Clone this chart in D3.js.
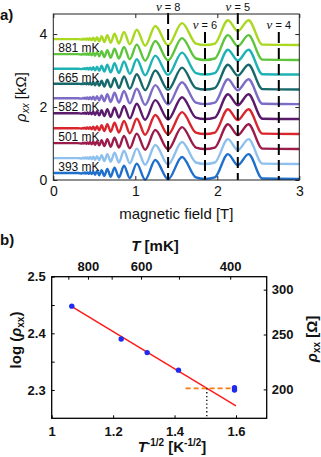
<!DOCTYPE html>
<html>
<head>
<meta charset="utf-8">
<script src="https://cdn.jsdelivr.net/npm/d3@7/dist/d3.min.js"></script>
<style>
  body { margin: 0; background: #fff; }
  svg { display: block; font-family: "Liberation Sans", Arial, sans-serif; }
</style>
</head>
<body>
<div id="chart"></div>
<script>
// ---- panel a: SdH traces (offset for clarity) ----
var fieldKnots = [0, 0.30, 0.35, 0.361, 0.373, 0.386, 0.40, 0.415, 0.431, 0.448, 0.467, 0.487,
  0.509, 0.533, 0.56, 0.589, 0.622, 0.659, 0.70, 0.747, 0.80, 0.862, 0.933, 1.018, 1.12,
  1.244, 1.40, 1.57, 1.74, 1.85, 1.97, 2.13, 2.25, 2.38, 2.55, 3.0];
var traceShape = [0, 0, -0.01, 0.01, -0.01, 0.015, -0.015, 0.02, -0.02, 0.03, -0.03, 0.04,
  -0.045, 0.055, -0.06, 0.08, -0.08, 0.11, -0.10, 0.15, -0.12, 0.20, -0.14, 0.26, -0.18,
  0.36, -0.17, 0.44, -0.12, -0.16, -0.12, 0.52, 0.22, 0.52, -0.15, -0.16];
var traceOffsets = [0.19, 0.60, 1.01, 1.42, 1.83, 2.24, 2.64, 3.05, 3.45, 3.86];
var traceColors = ["#1f6fcc", "#8ec0ee", "#9b1b4a", "#d9262e", "#5b1a6b",
  "#7d6cc6", "#17686b", "#1fb2b5", "#5ec43c", "#a9d820"];
var tempLabels = ["393 mK", "501 mK", "582 mK", "665 mK", "881 mK"];
var labelTraces = [0, 2, 4, 6, 8];
var nuValues = [8, 6, 5, 4];
var nuFields = [1.40, 1.85, 2.25, 2.75];
var nuLow = [false, true, false, true];
var fieldTicks = [0, 1, 2, 3];
var rhoTicks = [0, 2, 4];

// ---- panel b: activation plot ----
var tempsMK = [881, 665, 582, 501, 393, 393];
var logRho = [2.448, 2.390, 2.366, 2.335, 2.304, 2.300];
var fitX = [1.063, 1.600];
var fitY = [2.448, 2.272];
var cutLevel = 2.303;
var cutX = [1.436, 1.600];
var cutDrop = 1.505;
var invTTicks = [1, 1.2, 1.4, 1.6];
var logTicks = [2.3, 2.4, 2.5];
var logMinor = [2.35, 2.45];
var topTicksMK = [400, 500, 600, 700, 800, 900];
var topLabelsMK = [400, 600, 800];
var ohmTicks = [200, 250, 300];

var W = 321, H = 457;
var svg = d3.select("#chart").append("svg")
  .attr("width", W).attr("height", H);

// ================= panel a =================
var xa = d3.scaleLinear().domain([0, 3]).range([53.3, 299.3]);
var ya = d3.scaleLinear().domain([0, 4.55]).range([180, 14]);

var ga = svg.append("g");

var line = d3.line()
  .x(d => xa(d[0]))
  .y(d => ya(d[1]))
  .curve(d3.curveMonotoneX);

traceOffsets.forEach(function (off, i) {
  var pts = fieldKnots.map((b, k) => [b, off + traceShape[k]]);
  ga.append("path")
    .attr("d", line(pts))
    .attr("fill", "none")
    .attr("stroke", traceColors[i])
    .attr("stroke-width", 2.4);
});

// temperature labels
ga.selectAll(".tlab")
  .data(tempLabels)
  .enter().append("text")
  .attr("x", xa(0.06))
  .attr("y", (d, i) => ya(traceOffsets[labelTraces[i]]) - 2)
  .attr("font-size", 12)
  .attr("fill", "#111")
  .text(d => d);

// nu lines
nuFields.forEach(function (b, i) {
  ga.append("line")
    .attr("x1", xa(b)).attr("x2", xa(b))
    .attr("y1", nuLow[i] ? 32 : 13).attr("y2", ya(0))
    .attr("stroke", "#000")
    .attr("stroke-width", 2)
    .attr("stroke-dasharray", "11,5");
  var t = ga.append("text")
    .attr("x", xa(b))
    .attr("y", nuLow[i] ? 29 : 11)
    .attr("text-anchor", "middle")
    .attr("font-size", 11)
    .attr("fill", "#111");
  t.append("tspan").attr("font-style", "italic").attr("font-family", "'Liberation Serif', serif")
    .attr("font-size", 13).text("\u03bd");
  t.append("tspan").text(" = " + nuValues[i]);
});

// box + ticks
ga.append("rect")
  .attr("x", xa(0)).attr("y", ya(4.55))
  .attr("width", xa(3) - xa(0)).attr("height", ya(0) - ya(4.55))
  .attr("fill", "none").attr("stroke", "#222").attr("stroke-width", 1);

var axBa = ga.append("g").attr("transform", `translate(0,${ya(0)})`)
  .call(d3.axisBottom(xa).tickValues(fieldTicks).tickSizeInner(-4).tickSizeOuter(0).tickPadding(6).tickFormat(d3.format("d")));
var axLa = ga.append("g").attr("transform", `translate(${xa(0)},0)`)
  .call(d3.axisLeft(ya).tickValues(rhoTicks).tickSizeInner(-4).tickSizeOuter(0).tickPadding(6).tickFormat(d3.format("d")));
var axTa = ga.append("g").attr("transform", `translate(0,${ya(4.55)})`)
  .call(d3.axisTop(xa).tickValues(fieldTicks).tickSizeInner(-4).tickSizeOuter(0).tickFormat(""));
var axRa = ga.append("g").attr("transform", `translate(${xa(3)},0)`)
  .call(d3.axisRight(ya).tickValues(rhoTicks).tickSizeInner(-4).tickSizeOuter(0).tickFormat(""));
[axBa, axLa, axTa, axRa].forEach(function (a) {
  a.select(".domain").remove();
  a.selectAll("line").attr("stroke", "#222");
  a.selectAll("text").attr("font-size", 14).attr("fill", "#111")
    .attr("font-family", "'Liberation Sans', Arial, sans-serif");
});

ga.append("text")
  .attr("x", (xa(0) + xa(3)) / 2).attr("y", 219)
  .attr("text-anchor", "middle").attr("font-size", 15).attr("fill", "#111")
  .text("magnetic field [T]");

var yla = ga.append("text")
  .attr("transform", "translate(26,97) rotate(-90)")
  .attr("text-anchor", "middle").attr("font-size", 15).attr("fill", "#111");
yla.append("tspan").attr("font-style", "italic").text("\u03c1");
yla.append("tspan").attr("font-style", "italic").attr("font-size", 10).attr("dy", 3).text("xx");
yla.append("tspan").attr("dy", -3).text(" [k\u03a9]");

svg.append("text").attr("x", 0).attr("y", 20)
  .attr("font-size", 15).attr("font-weight", "bold").attr("fill", "#111").text("a)");

// ================= panel b =================
var xb = d3.scaleLinear().domain([1, 1.7]).range([51.7, 266.7]);
var yb = d3.scaleLinear().domain([2.25, 2.5]).range([418.3, 276.7]);
var gb = svg.append("g");

// fit line
gb.append("line")
  .attr("x1", xb(fitX[0])).attr("y1", yb(fitY[0]))
  .attr("x2", xb(fitX[1])).attr("y2", yb(fitY[1]))
  .attr("stroke", "#ff1a1a").attr("stroke-width", 1.5);

// orange cut + dotted drop
gb.append("line")
  .attr("x1", xb(cutX[0])).attr("x2", xb(cutX[1]))
  .attr("y1", yb(cutLevel)).attr("y2", yb(cutLevel))
  .attr("stroke", "#ff7a10").attr("stroke-width", 1.8).attr("stroke-dasharray", "5,3");
gb.append("line")
  .attr("x1", xb(cutDrop)).attr("x2", xb(cutDrop))
  .attr("y1", yb(cutLevel)).attr("y2", yb(2.25))
  .attr("stroke", "#000").attr("stroke-width", 1.3).attr("stroke-dasharray", "1.3,2.5");

// points
gb.selectAll(".pt")
  .data(tempsMK)
  .enter().append("circle")
  .attr("cx", d => xb(1 / Math.sqrt(d / 1000)))
  .attr("cy", (d, i) => yb(logRho[i]))
  .attr("r", 2.7)
  .attr("fill", "#1f2cf0");

gb.append("rect")
  .attr("x", xb(1)).attr("y", yb(2.5))
  .attr("width", xb(1.7) - xb(1)).attr("height", yb(2.25) - yb(2.5))
  .attr("fill", "none").attr("stroke", "#000").attr("stroke-width", 1.3);

var yOhm = d3.scaleLinear().domain([2.25, 2.5]).range(yb.range());
var axBb = gb.append("g").attr("transform", `translate(0,${yb(2.25)})`)
  .call(d3.axisBottom(xb).tickValues(invTTicks).tickSizeInner(-3).tickSizeOuter(0).tickPadding(8).tickFormat(d => d === 1 ? "1" : d3.format(".1f")(d)));
var axLb = gb.append("g").attr("transform", `translate(${xb(1)},0)`)
  .call(d3.axisLeft(yb).tickValues(logTicks.concat(logMinor)).tickSizeInner(-3).tickSizeOuter(0).tickPadding(6)
    .tickFormat(d => logTicks.indexOf(d) >= 0 ? d3.format(".1f")(d) : ""));
var axTb = gb.append("g").attr("transform", `translate(0,${yb(2.5)})`)
  .call(d3.axisTop(xb).tickValues(topTicksMK.map(t => 1 / Math.sqrt(t / 1000))).tickSizeInner(-3).tickSizeOuter(0).tickPadding(6)
    .tickFormat((d, i) => topLabelsMK.indexOf(topTicksMK[i]) >= 0 ? topTicksMK[i] : ""));
var axRb = gb.append("g").attr("transform", `translate(${xb(1.7)},0)`)
  .call(d3.axisRight(yOhm).tickValues(ohmTicks.map(v => Math.log10(v))).tickSizeInner(-3).tickSizeOuter(0).tickPadding(5)
    .tickFormat((d, i) => ohmTicks[i]));
[axBb, axLb, axTb, axRb].forEach(function (a) {
  a.select(".domain").remove();
  a.selectAll("line").attr("stroke", "#000");
  a.selectAll("text").attr("font-size", 13).attr("font-weight", "bold").attr("fill", "#111")
    .attr("font-family", "'Liberation Sans', Arial, sans-serif");
});

var xlb = gb.append("text")
  .attr("x", 172).attr("y", 452)
  .attr("text-anchor", "middle").attr("font-size", 15).attr("font-weight", "bold").attr("fill", "#111");
xlb.append("tspan").attr("font-style", "italic").text("T");
xlb.append("tspan").attr("font-size", 10).attr("dy", -6).text("-1/2");
xlb.append("tspan").attr("dy", 6).text(" [K");
xlb.append("tspan").attr("font-size", 10).attr("dy", -6).text("-1/2");
xlb.append("tspan").attr("dy", 6).text("]");

var tlb = gb.append("text")
  .attr("x", 155).attr("y", 251)
  .attr("text-anchor", "middle").attr("font-size", 15).attr("font-weight", "bold").attr("fill", "#111");
tlb.append("tspan").attr("font-style", "italic").text("T");
tlb.append("tspan").text(" [mK]");

var ylb = gb.append("text")
  .attr("transform", "translate(21,340) rotate(-90)")
  .attr("text-anchor", "middle").attr("font-size", 15).attr("font-weight", "bold").attr("fill", "#111");
ylb.append("tspan").text("log (");
ylb.append("tspan").attr("font-style", "italic").text("\u03c1");
ylb.append("tspan").attr("font-size", 10).attr("dy", 3).text("xx");
ylb.append("tspan").attr("dy", -3).text(")");

var yrb = gb.append("text")
  .attr("transform", "translate(317,339) rotate(-90)")
  .attr("text-anchor", "middle").attr("font-size", 15).attr("font-weight", "bold").attr("fill", "#111");
yrb.append("tspan").attr("font-style", "italic").text("\u03c1");
yrb.append("tspan").attr("font-size", 10).attr("dy", 3).text("xx");
yrb.append("tspan").attr("dy", -3).text(" [\u03a9]");

svg.append("text").attr("x", 0).attr("y", 245)
  .attr("font-size", 15).attr("font-weight", "bold").attr("fill", "#111").text("b)");
</script>
</body>
</html>
